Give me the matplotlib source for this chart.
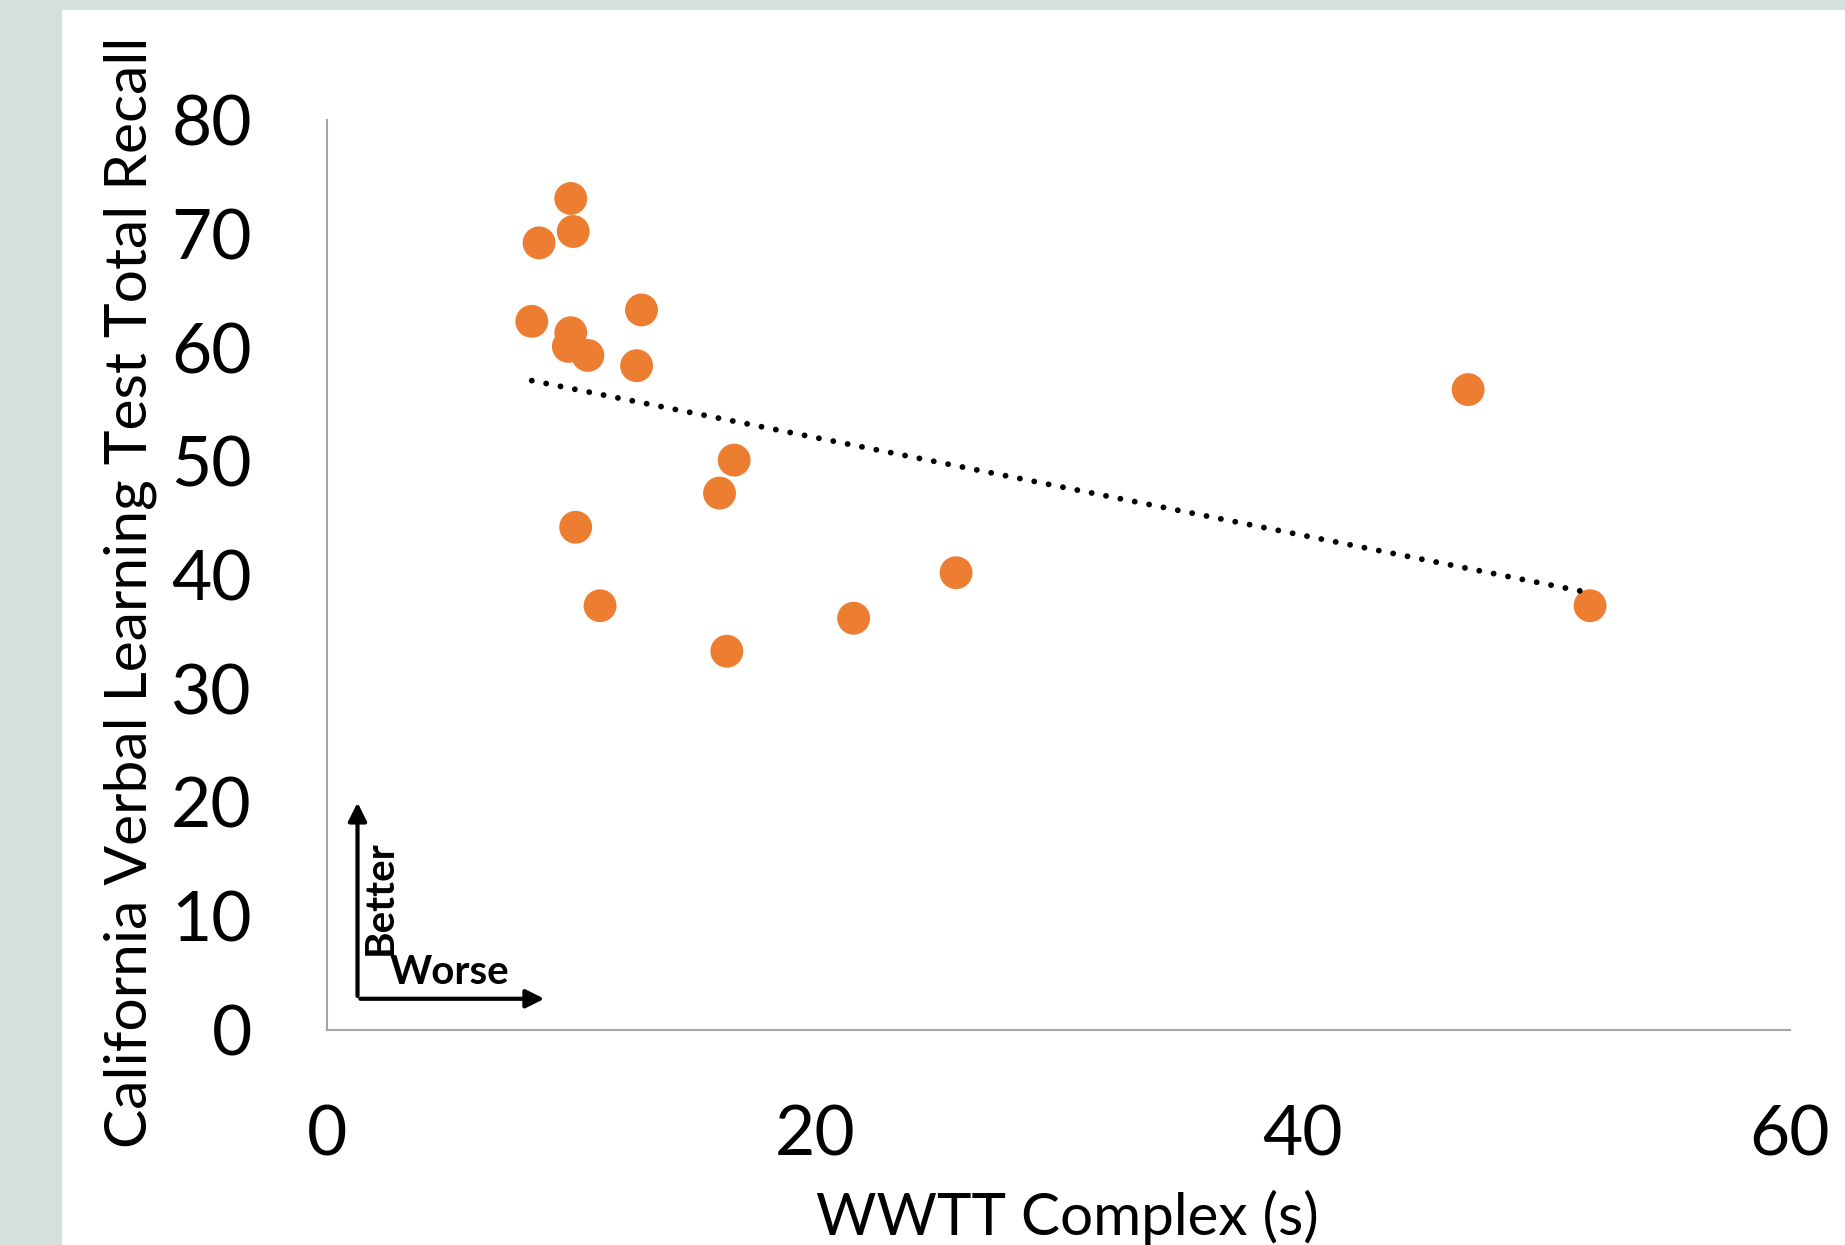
import matplotlib.pyplot as plt
import matplotlib.patches as mpatches
import numpy as np

plt.rcParams['font.family'] = ['Lato', 'DejaVu Sans']

# WWTT complex time (s) vs CVLT total recall
wwtt_s = [10.0, 10.1, 8.7, 8.4, 10.0, 9.9, 10.7, 12.9, 12.7, 16.7,
          16.1, 10.2, 11.2, 16.4, 21.6, 25.8, 46.8, 51.8]
cvlt_recall = [73.1, 70.2, 69.2, 62.3, 61.3, 60.1, 59.3, 63.3, 58.4, 50.1,
               47.2, 44.2, 37.3, 33.3, 36.2, 40.2, 56.3, 37.3]

x_ticks = [0, 20, 40, 60]
y_ticks = [0, 10, 20, 30, 40, 50, 60, 70, 80]

fig = plt.figure(figsize=(18.45, 12.45), dpi=100)
fig.patch.set_facecolor('#D5DFDB')
# white panel behind the chart
panel = mpatches.Rectangle((62 / 1845, 0), 1, 1 - 10 / 1245,
                           transform=fig.transFigure,
                           facecolor='white', edgecolor='none', zorder=-10)
fig.add_artist(panel)

ax = fig.add_axes([0.1772, 0.1727, 0.793, 0.7309])
ax.set_facecolor('none')

ax.scatter(wwtt_s, cvlt_recall, s=560, color='#ED7D31', edgecolors='none', zorder=3)

# linear trendline over the data range
slope, icpt = np.polyfit(wwtt_s, cvlt_recall, 1)
xs = np.array([min(wwtt_s), max(wwtt_s)])
ax.plot(xs, slope * xs + icpt, color='black', lw=4.2,
        linestyle=(0, (0.01, 2.5)), dash_capstyle='round', zorder=4)

ax.set_xlim(0, 60)
ax.set_ylim(0, 80)
ax.set_xticks(x_ticks)
ax.set_yticks(y_ticks)
ax.tick_params(length=0, labelsize=50, pad=54)
ax.tick_params(axis='y', pad=54)

for side in ['top', 'right']:
    ax.spines[side].set_visible(False)
for side in ['left', 'bottom']:
    ax.spines[side].set_color('#A6A6A6')
    ax.spines[side].set_linewidth(1.5)

ax.set_xlabel('WWTT Complex (s)', fontsize=42, labelpad=16)
ax.set_ylabel('California Verbal Learning Test Total Recall', fontsize=42.3, labelpad=10)
ax.xaxis.label.set_x(0.506)
ax.yaxis.label.set_y(0.481)

# Better / Worse arrows
arrow_style = dict(arrowstyle='-|>,head_length=1.1,head_width=0.55', color='black', lw=3)
ax.annotate('', xy=(0.0209, 0.253), xytext=(0.0209, 0.0343), xycoords='axes fraction',
            arrowprops=arrow_style)
ax.annotate('', xy=(0.1505, 0.0343), xytext=(0.0209, 0.0343), xycoords='axes fraction',
            arrowprops=arrow_style)
ax.text(0.0365, 0.145, 'Better', transform=ax.transAxes, rotation=90,
        fontsize=29, fontweight='bold', ha='center', va='center')
ax.text(0.0835, 0.063, 'Worse', transform=ax.transAxes,
        fontsize=29, fontweight='bold', ha='center', va='center')

fig.savefig('out.png', dpi=100, facecolor=fig.get_facecolor())
